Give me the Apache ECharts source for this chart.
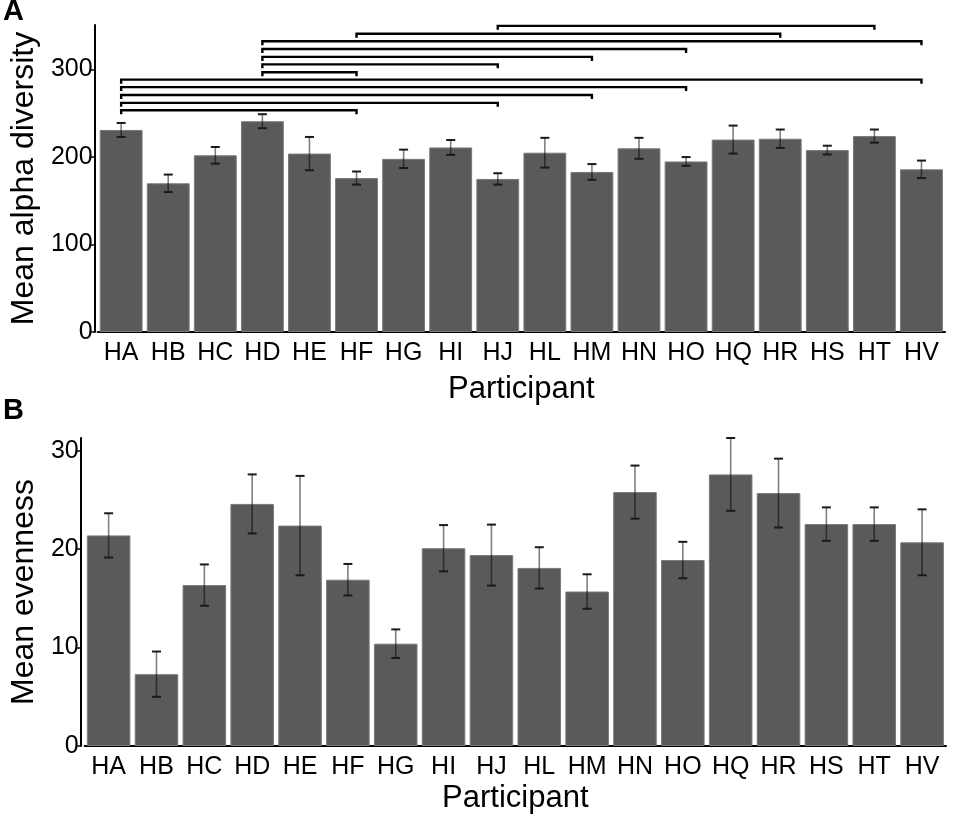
<!DOCTYPE html>
<html>
<head>
<meta charset="utf-8">
<script src="https://cdn.jsdelivr.net/npm/echarts@6/dist/echarts.min.js"></script>
<style>html,body{margin:0;padding:0;background:#fff}#c{width:955px;height:820px}</style>
</head>
<body>
<div id="c"></div>
<script>
const participants = ['HA','HB','HC','HD','HE','HF','HG','HI','HJ','HL','HM','HN','HO','HQ','HR','HS','HT','HV'];
const alphaMean = [231,170,202,241,204,176,198,211,175,205,183,210,195,220,221,208,224,186];
const alphaErr  = [8,10,9.5,8,19,7.5,10.5,8.5,6.5,17,9,12,5,16,10.5,5,7.5,10];
const evenMean = [21.4,7.3,16.35,24.6,22.4,16.9,10.4,20.1,19.4,18.1,15.7,25.8,18.9,27.6,25.7,22.55,22.55,20.7];
const evenErr  = [2.25,2.3,2.1,3.0,5.05,1.6,1.45,2.35,3.1,2.1,1.75,2.7,1.85,3.7,3.5,1.7,1.7,3.35];
const alphaTicks = [0,100,200,300];
const evenTicks = [0,10,20,30];
const bracketStart = ['HJ','HF','HD','HD','HD','HD','HD','HA','HA','HA','HA','HA'];
const bracketEnd   = ['HT','HR','HV','HO','HM','HJ','HF','HV','HO','HM','HJ','HF'];
const bracketLevel = [350,341,332.5,323.5,314.5,306,297,288.5,280,271,262,253.5];

const FONT = "'Liberation Sans', Arial, sans-serif";
const chart = echarts.init(document.getElementById('c'), null, {renderer:'canvas'});

function errItem(params, api){
  const x = api.value(0), m = api.value(1), e = api.value(2);
  const hi = api.coord([x, m + e]);
  const lo = api.coord([x, m - e]);
  const cw = 4.5;
  return {type:'group', children:[
    {type:'line', shape:{x1:hi[0], y1:hi[1], x2:lo[0], y2:lo[1]}, style:{stroke:'rgba(0,0,0,0.5)', lineWidth:1.6}},
    {type:'line', shape:{x1:hi[0]-cw, y1:hi[1], x2:hi[0]+cw, y2:hi[1]}, style:{stroke:'#1a1a1a', lineWidth:2}},
    {type:'line', shape:{x1:lo[0]-cw, y1:lo[1], x2:lo[0]+cw, y2:lo[1]}, style:{stroke:'#1a1a1a', lineWidth:2}}
  ]};
}
function bracketItem(params, api){
  const a = api.coord([api.value(0), api.value(2)]);
  const b = api.coord([api.value(1), api.value(2)]);
  return {type:'polyline', shape:{points:[[a[0],a[1]+4],[a[0],a[1]],[b[0],b[1]],[b[0],b[1]+4]]},
    style:{stroke:'#000', lineWidth:2.4, fill:null}};
}

const xAxisCommon = {
  type:'category', data:participants, boundaryGap:true,
  axisLine:{lineStyle:{color:'#000', width:2}},
  axisTick:{alignWithLabel:true, interval:0, length:6, lineStyle:{color:'#000', width:1.5}},
  name:'Participant', nameLocation:'middle',
  nameTextStyle:{color:'#000', fontFamily:FONT, fontSize:31}
};
const yAxisCommon = {
  type:'value', min:0, splitLine:{show:false},
  axisLine:{show:true, lineStyle:{color:'#000', width:2}},
  nameLocation:'middle',
  nameTextStyle:{color:'#000', fontFamily:FONT, fontSize:32}
};

chart.setOption({
  animation:false,
  backgroundColor:'#fff',
  grid:[
    {left:90, right:10, top:25, height:307},
    {left:80, right:9, top:438, height:308}
  ],
  xAxis:[
    Object.assign({}, xAxisCommon, {gridIndex:0, nameGap:42,
      axisLabel:{color:'#000', fontFamily:FONT, fontSize:25, margin:9, interval:0}}),
    Object.assign({}, xAxisCommon, {gridIndex:1, nameGap:37,
      axisLabel:{color:'#000', fontFamily:FONT, fontSize:25, margin:9, interval:0}})
  ],
  yAxis:[
    Object.assign({}, yAxisCommon, {gridIndex:0, max:351, offset:3, name:'Mean alpha diversity', nameGap:49,
      axisTick:{show:true, length:5, customValues:alphaTicks, lineStyle:{color:'#000', width:1.5}},
      axisLabel:{color:'#000', fontFamily:FONT, fontSize:25, margin:2, customValues:alphaTicks}}),
    Object.assign({}, yAxisCommon, {gridIndex:1, max:31.3, offset:4, name:'Mean evenness', nameGap:39,
      axisTick:{show:true, length:5, customValues:evenTicks, lineStyle:{color:'#000', width:1.5}},
      axisLabel:{color:'#000', fontFamily:FONT, fontSize:25, margin:2, customValues:evenTicks}})
  ],
  series:[
    {type:'bar', xAxisIndex:0, yAxisIndex:0, data:alphaMean, barCategoryGap:'9%',
      itemStyle:{color:'#5a5a5a', borderColor:'#7a7a7a', borderWidth:1}},
    {type:'bar', xAxisIndex:1, yAxisIndex:1, data:evenMean, barCategoryGap:'9%',
      itemStyle:{color:'#5a5a5a', borderColor:'#7a7a7a', borderWidth:1}},
    {type:'custom', xAxisIndex:0, yAxisIndex:0, renderItem:errItem, z:5,
      data:participants.map((p,i)=>[i, alphaMean[i], alphaErr[i]]), encode:{x:0, y:1}},
    {type:'custom', xAxisIndex:1, yAxisIndex:1, renderItem:errItem, z:5,
      data:participants.map((p,i)=>[i, evenMean[i], evenErr[i]]), encode:{x:0, y:1}},
    {type:'custom', xAxisIndex:0, yAxisIndex:0, renderItem:bracketItem, z:6, clip:false,
      data:bracketStart.map((s,i)=>[participants.indexOf(s), participants.indexOf(bracketEnd[i]), bracketLevel[i]]),
      encode:{x:[0,1], y:2}}
  ],
  graphic:[
    {type:'text', left:3, top:-3, style:{text:'A', font:"bold 29px 'Liberation Sans', Arial, sans-serif", fill:'#000'}},
    {type:'text', left:3, top:396, style:{text:'B', font:"bold 29px 'Liberation Sans', Arial, sans-serif", fill:'#000'}}
  ]
});
</script>
</body>
</html>
